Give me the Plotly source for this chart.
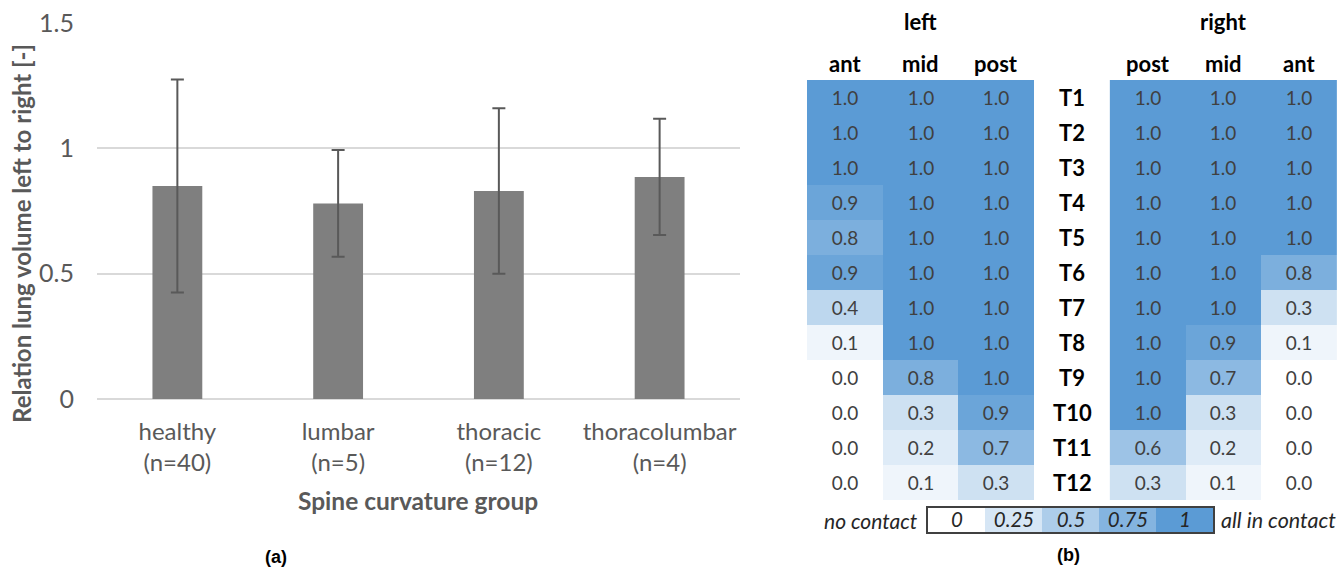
import plotly.graph_objects as go

# ---------- data: panel (a) ----------
groups = ["healthy", "lumbar", "thoracic", "thoracolumbar"]
group_n = ["(n=40)", "(n=5)", "(n=12)", "(n=4)"]
ratio_mean = [0.85, 0.78, 0.83, 0.886]
ratio_sd = [0.425, 0.213, 0.33, 0.232]
y_ticks = [0, 0.5, 1, 1.5]
y_ticklabels = ["0", "0.5", "1", "1.5"]

# ---------- data: panel (b) ----------
levels = ["T1", "T2", "T3", "T4", "T5", "T6", "T7", "T8", "T9", "T10", "T11", "T12"]
left_cols = ["ant", "mid", "post"]
right_cols = ["post", "mid", "ant"]
left_ant = [1.0, 1.0, 1.0, 0.9, 0.8, 0.9, 0.4, 0.1, 0.0, 0.0, 0.0, 0.0]
left_mid = [1.0, 1.0, 1.0, 1.0, 1.0, 1.0, 1.0, 1.0, 0.8, 0.3, 0.2, 0.1]
left_post = [1.0, 1.0, 1.0, 1.0, 1.0, 1.0, 1.0, 1.0, 1.0, 0.9, 0.7, 0.3]
right_post = [1.0, 1.0, 1.0, 1.0, 1.0, 1.0, 1.0, 1.0, 1.0, 1.0, 0.6, 0.3]
right_mid = [1.0, 1.0, 1.0, 1.0, 1.0, 1.0, 1.0, 0.9, 0.7, 0.3, 0.2, 0.1]
right_ant = [1.0, 1.0, 1.0, 1.0, 1.0, 0.8, 0.3, 0.1, 0.0, 0.0, 0.0, 0.0]
legend_vals = [0, 0.25, 0.5, 0.75, 1]
legend_labels = ["0", "0.25", "0.5", "0.75", "1"]

W, H = 1339, 569
BLUE = "#5b9bd5"
cscale = [[0, "#ffffff"], [1, BLUE]]
FONT = "Lato"
GRAY = "#595959"

def px(x):
    return x / W

def py(y):
    return 1 - y / H

fig = go.Figure()

# ---- bar chart ----
fig.add_trace(go.Bar(
    x=list(range(len(groups))), y=ratio_mean,
    width=0.31, marker=dict(color="#7f7f7f", line=dict(width=0)),
    error_y=dict(type="data", array=ratio_sd, visible=True,
                 color="#595959", thickness=2, width=6.5),
    xaxis="x", yaxis="y", showlegend=False, hoverinfo="skip",
))

# ---- contact heatmaps ----
z_left = [[left_ant[i], left_mid[i], left_post[i]] for i in range(len(levels))]
z_right = [[right_post[i], right_mid[i], right_ant[i]] for i in range(len(levels))]
for xs, z in (([0, 1, 2], z_left), ([4, 5, 6], z_right)):
    fig.add_trace(go.Heatmap(
        x=xs, y=list(range(len(levels))), z=z,
        colorscale=cscale, zmin=0, zmax=1, showscale=False,
        texttemplate="%{z:.1f}", textfont=dict(family=FONT, size=19, color="#404040"),
        xaxis="x2", yaxis="y2", hoverinfo="skip", xgap=0, ygap=0,
    ))

# ---- colour legend ----
fig.add_trace(go.Heatmap(
    x=list(range(len(legend_vals))), y=[0], z=[legend_vals], text=[legend_labels],
    colorscale=cscale, zmin=0, zmax=1, showscale=False,
    texttemplate="%{text}",
    textfont=dict(family=FONT, size=20.5, color="#262626", style="italic"),
    xaxis="x3", yaxis="y3", hoverinfo="skip",
))

# bar axes
bx0, bx1 = px(97), px(740)
by0, by1 = py(399), py(23)
fig.update_layout(
    xaxis=dict(domain=[bx0, bx1], range=[-0.5, 3.5], tickmode="array", anchor="y",
               tickvals=list(range(len(groups))),
               ticktext=[f"{g}<br>{n}" for g, n in zip(groups, group_n)],
               tickfont=dict(family=FONT, size=24, color=GRAY), ticks="",
               showgrid=False, zeroline=False, showline=False, fixedrange=True,
               ticklabelstandoff=16),
    yaxis=dict(domain=[by0, by1], range=[0, 1.5], tickmode="array", anchor="x",
               tickvals=y_ticks, ticktext=y_ticklabels,
               tickfont=dict(family=FONT, size=25, color=GRAY), ticks="",
               showgrid=True, gridcolor="#d9d9d9", gridwidth=1.5,
               zeroline=True, zerolinecolor="#d9d9d9", zerolinewidth=1.5,
               showline=False, ticklabelstandoff=22, fixedrange=True),
    xaxis2=dict(domain=[px(807), px(1337)], range=[-0.5, 6.5], visible=False,
                anchor="y2", fixedrange=True),
    yaxis2=dict(domain=[py(500), py(80)], range=[11.5, -0.5], visible=False,
                anchor="x2", fixedrange=True),
    xaxis3=dict(domain=[px(928), px(1213)], range=[-0.5, 4.5], showticklabels=False,
                anchor="y3", ticks="", showgrid=False, zeroline=False, showline=True,
                mirror=True, linecolor="#404040", linewidth=1.5, fixedrange=True),
    yaxis3=dict(domain=[py(532), py(508)], range=[-0.5, 0.5], showticklabels=False,
                anchor="x3", ticks="", showgrid=False, zeroline=False, showline=True,
                mirror=True, linecolor="#404040", linewidth=1.5, fixedrange=True),
    width=W, height=H, margin=dict(l=0, r=0, t=0, b=0, autoexpand=False),
    paper_bgcolor="white", plot_bgcolor="white",
)

def note(text, x, y, xref="paper", yref="paper", size=22, color="#000000",
         family=FONT, xanchor="center", angle=0):
    return dict(text=text, x=x, y=y, xref=xref, yref=yref, showarrow=False,
                xanchor=xanchor, yanchor="middle", textangle=angle,
                font=dict(family=family, size=size, color=color))

ann = []
ann.append(note("<b>Relation lung volume left to right [-]</b>", px(22), py(234),
                size=24, color=GRAY, angle=-90))
ann.append(note("<b>Spine curvature group</b>", px(418), py(500), size=24.5, color=GRAY))
ann.append(note("<b>left</b>", 1, py(22), xref="x2"))
ann.append(note("<b>right</b>", 5, py(22), xref="x2"))
for i, c in enumerate(left_cols):
    ann.append(note(f"<b>{c}</b>", i, py(64), xref="x2"))
for i, c in enumerate(right_cols):
    ann.append(note(f"<b>{c}</b>", 4 + i, py(64), xref="x2"))
for i, lv in enumerate(levels):
    ann.append(note(f"<b>{lv}</b>", 3, i, xref="x2", yref="y2", size=22))
ann.append(note("<i>no contact</i>", px(920), py(520), xanchor="right", size=21, color="#262626"))
ann.append(note("<i>all in contact</i>", px(1219), py(520), xanchor="left", size=21.5, color="#262626"))
ann.append(note("<b>(a)</b>", px(276), py(557), family="Liberation Sans", size=18))
ann.append(note("<b>(b)</b>", px(1068), py(555), family="Liberation Sans", size=18))
fig.update_layout(annotations=ann)

fig.write_html("out.html")
